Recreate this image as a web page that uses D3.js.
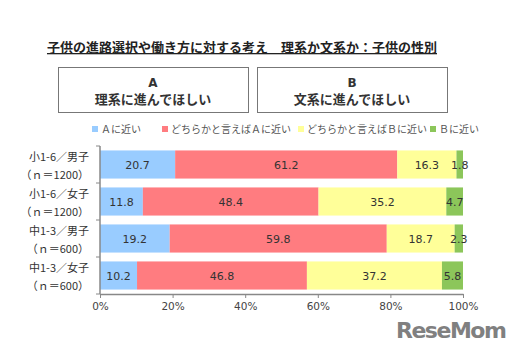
<!DOCTYPE html>
<html><head><meta charset="utf-8">
<script src="https://cdn.jsdelivr.net/npm/d3@7"></script>
<style>body{margin:0;background:#fff}svg{display:block}</style>
</head><body>
<script>
const categories = ["小1-6／男子","小1-6／女子","中1-3／男子","中1-3／女子"];
const sampleLabels = ["（ｎ＝1200）","（ｎ＝1200）","（ｎ＝600）","（ｎ＝600）"];
const seriesNames = ["Ａに近い","どちらかと言えばＡに近い","どちらかと言えばＢに近い","Ｂに近い"];
const seriesColors = ["#99CCFF","#FF7C80","#FFFF99","#8CC65A"];
const nearA = [20.7, 11.8, 19.2, 10.2];
const ratherA = [61.2, 48.4, 59.8, 46.8];
const ratherB = [16.3, 35.2, 18.7, 37.2];
const nearB = [1.8, 4.7, 2.3, 5.8];
const xTicks = [0,20,40,60,80,100];
const title = "子供の進路選択や働き方に対する考え　理系か文系か：子供の性別";
const boxHeads = ["A","B"];
const boxTexts = ["理系に進んでほしい","文系に進んでほしい"];

const W=508,H=346;
const svg=d3.select("body").append("svg").attr("width",W).attr("height",H);
const font="'DejaVu Sans','Noto Sans CJK JP',sans-serif";
const jfont="'Noto Sans CJK JP',sans-serif";

// title
svg.append("text").attr("x",242).attr("y",52).attr("text-anchor","middle")
  .attr("font-family",jfont).attr("font-weight","bold").attr("font-size",13).attr("fill","#222")
  .attr("text-decoration","underline").text(title);

// boxes
const boxX=[58,257], boxW=190;
boxHeads.forEach((h,i)=>{
  svg.append("rect").attr("x",boxX[i]+0.5).attr("y",67.5).attr("width",boxW).attr("height",45)
    .attr("fill","#fff").attr("stroke","#777").attr("stroke-width",1);
  svg.append("text").attr("x",boxX[i]+boxW/2).attr("y",87).attr("text-anchor","middle")
    .attr("font-family",font).attr("font-weight","bold").attr("font-size",12).attr("fill","#333").text(h);
  svg.append("text").attr("x",boxX[i]+boxW/2).attr("y",104).attr("text-anchor","middle")
    .attr("font-family",jfont).attr("font-weight","bold").attr("font-size",13).attr("fill","#333").text(boxTexts[i]);
});

// legend
const legX=[92,162,298,430];
seriesNames.forEach((n,i)=>{
  svg.append("rect").attr("x",legX[i]).attr("y",126).attr("width",6).attr("height",6).attr("fill",seriesColors[i]);
  svg.append("text").attr("x",legX[i]+9).attr("y",132.5).attr("font-family",jfont).attr("font-size",10)
    .attr("fill","#555").text(n);
});

// scales
const x=d3.scaleLinear().domain([0,100]).range([100,463]);
const y=d3.scaleBand().domain(categories).range([146,294]).paddingInner(0.24).paddingOuter(0.12);

const rows=categories.map((c,i)=>({cat:c,vals:[nearA[i],ratherA[i],ratherB[i],nearB[i]]}));
const g=svg.append("g");
rows.forEach(r=>{
  let acc=0;
  r.vals.forEach((v,j)=>{
    const x0=acc; acc+=v;
    g.append("rect").attr("x",x(x0)).attr("y",y(r.cat)).attr("width",x(Math.min(acc,100))-x(x0))
      .attr("height",y.bandwidth()).attr("fill",seriesColors[j]);
    g.append("text").attr("x",(x(x0)+x(Math.min(acc,100)))/2).attr("y",y(r.cat)+y.bandwidth()/2+4)
      .attr("text-anchor","middle").attr("font-family",font).attr("font-size",11).attr("fill","#333")
      .text(v.toFixed(1));
  });
});

// x axis
const xa=svg.append("g").attr("transform","translate(0,294)")
  .call(d3.axisBottom(x).tickValues(xTicks).tickFormat(d=>d+"%").tickSize(4).tickSizeOuter(0));
xa.select(".domain").attr("stroke","#888").attr("stroke-width",1.5);
xa.selectAll(".tick line").attr("stroke","#888");
xa.selectAll(".tick text").attr("font-family",font).attr("font-size",10.5).attr("fill","#444").attr("dy","0.9em");

// y axis line with category ticks
const ya=svg.append("g");
ya.append("line").attr("x1",100).attr("x2",100).attr("y1",146).attr("y2",294).attr("stroke","#888").attr("stroke-width",1.5);
const bounds=categories.map(c=>y(c)-y.step()*y.paddingInner()/2).concat([294]);
bounds.forEach(b=>ya.append("line").attr("x1",96).attr("x2",100).attr("y1",b).attr("y2",b).attr("stroke","#888"));

categories.forEach((c,i)=>{
  const cy=y(c)+y.bandwidth()/2;
  svg.append("text").attr("x",89).attr("y",cy-4).attr("text-anchor","end").attr("font-family",jfont)
    .attr("font-size",11).attr("fill","#333").text(c);
  svg.append("text").attr("x",89).attr("y",cy+14).attr("text-anchor","end").attr("font-family",jfont)
    .attr("font-size",11).attr("fill","#333").text(sampleLabels[i]);
});

// watermark
svg.append("text").attr("x",396).attr("y",338).attr("font-family","'DejaVu Sans',sans-serif")
  .attr("font-weight","bold").attr("font-size",22).attr("fill","#808080").attr("letter-spacing","-1.5")
  .text("ReseMom");
</script>
</body></html>
